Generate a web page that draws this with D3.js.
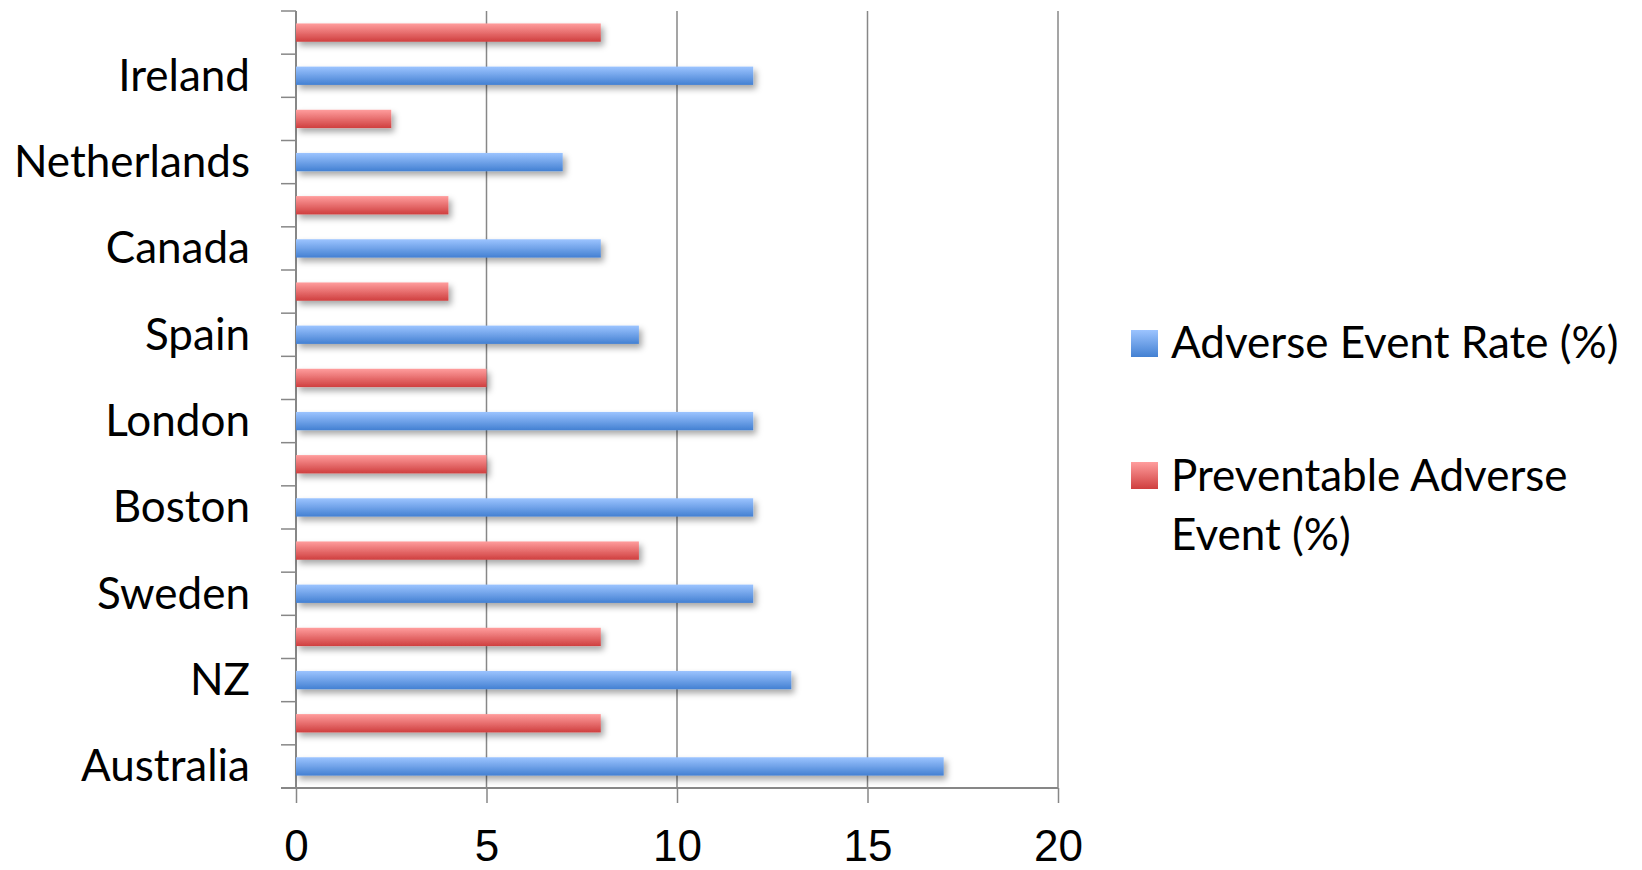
<!DOCTYPE html>
<html>
<head>
<meta charset="utf-8">
<script src="https://cdn.jsdelivr.net/npm/d3@7"></script>
<style>
  html, body { margin: 0; padding: 0; background: #fff; }
  svg { display: block; font-family: Lato, "Open Sans", sans-serif; }
</style>
</head>
<body>
<svg id="chart" width="1642" height="870"></svg>
<script>
// Categories listed from the top of the chart down
const categories = ["Ireland", "Netherlands", "Canada", "Spain", "London", "Boston", "Sweden", "NZ", "Australia"];
const adverseRate = [12, 7, 8, 9, 12, 12, 12, 13, 17];
const preventable = [8, 2.5, 4, 4, 5, 5, 9, 8, 8];
const seriesNames = ["Adverse Event Rate (%)", "Preventable Adverse Event (%)"];
const xTicks = [0, 5, 10, 15, 20];

const svg = d3.select("#chart");
const plot = { left: 296, right: 1058, top: 11, bottom: 788 };
const gridColor = "#878787";
const fontSize = 44;

const x = d3.scaleLinear().domain([0, 20]).range([plot.left, plot.right]);
const y = d3.scaleBand().domain(categories).range([plot.top, plot.bottom]).padding(0);
// Each category holds two slots: preventable on top, overall rate below
const sub = d3.scaleBand().domain(["prev", "rate"]).range([0, y.bandwidth()])
  .paddingInner(0.576).paddingOuter(0.288);

// Gradients and shadow
const defs = svg.append("defs");
function grad(id, top, bottom) {
  const g = defs.append("linearGradient").attr("id", id)
    .attr("x1", 0).attr("y1", 0).attr("x2", 0).attr("y2", 1);
  g.append("stop").attr("offset", "0%").attr("stop-color", top);
  g.append("stop").attr("offset", "100%").attr("stop-color", bottom);
}
grad("gBlue", "#9cc4ff", "#4380d2");
grad("gRed", "#ff9d9d", "#cf3f3f");
const f = defs.append("filter").attr("id", "shadow")
  .attr("x", "-5%").attr("y", "-40%").attr("width", "115%").attr("height", "220%");
f.append("feDropShadow").attr("dx", 3).attr("dy", 4).attr("stdDeviation", 3)
  .attr("flood-color", "#000").attr("flood-opacity", 0.35);

// Vertical gridlines
svg.append("g").selectAll("line").data(xTicks.slice(1)).join("line")
  .attr("x1", d => x(d)).attr("x2", d => x(d))
  .attr("y1", plot.top).attr("y2", plot.bottom)
  .attr("stroke", gridColor).attr("stroke-width", 1.5);

// Bottom axis
const xAxis = svg.append("g").attr("transform", `translate(0,${plot.bottom})`)
  .call(d3.axisBottom(x).tickValues(xTicks).tickSize(15).tickPadding(0).tickSizeOuter(0));
xAxis.select(".domain").remove();
xAxis.selectAll(".tick line").attr("stroke", gridColor).attr("stroke-width", 1.5);
xAxis.selectAll(".tick text").attr("font-size", fontSize).attr("fill", "#000")
  .attr("dy", null).attr("y", 73);
svg.append("line").attr("x1", plot.left - 15).attr("x2", plot.right)
  .attr("y1", plot.bottom).attr("y2", plot.bottom)
  .attr("stroke", gridColor).attr("stroke-width", 2);

// Left axis line and ticks at every slot boundary
svg.append("line").attr("x1", plot.left).attr("x2", plot.left)
  .attr("y1", plot.top).attr("y2", plot.bottom)
  .attr("stroke", gridColor).attr("stroke-width", 2);
const boundaries = [];
categories.forEach(c => { boundaries.push(y(c)); boundaries.push(y(c) + y.bandwidth() / 2); });
svg.append("g").selectAll("line").data(boundaries).join("line")
  .attr("x1", plot.left - 15).attr("x2", plot.left)
  .attr("y1", d => d).attr("y2", d => d)
  .attr("stroke", gridColor).attr("stroke-width", 1.5);

// Category labels, centred on the lower slot
svg.append("g").selectAll("text").data(categories).join("text")
  .attr("x", 250).attr("y", d => y(d) + sub("rate") + sub.bandwidth() / 2 + 15)
  .attr("text-anchor", "end").attr("font-size", fontSize).attr("fill", "#000")
  .text(d => d);

// Bars
const rows = categories.map((c, i) => ({ c, rate: adverseRate[i], prev: preventable[i] }));
const bars = svg.append("g").attr("filter", "url(#shadow)");
bars.selectAll("rect.prev").data(rows).join("rect").attr("class", "prev")
  .attr("x", x(0)).attr("y", d => y(d.c) + sub("prev"))
  .attr("width", d => x(d.prev) - x(0)).attr("height", sub.bandwidth())
  .attr("fill", "url(#gRed)");
bars.selectAll("rect.rate").data(rows).join("rect").attr("class", "rate")
  .attr("x", x(0)).attr("y", d => y(d.c) + sub("rate"))
  .attr("width", d => x(d.rate) - x(0)).attr("height", sub.bandwidth())
  .attr("fill", "url(#gBlue)");

// Legend
const legend = svg.append("g");
legend.append("rect").attr("x", 1131).attr("y", 330).attr("width", 27).attr("height", 27)
  .attr("fill", "url(#gBlue)");
legend.append("text").attr("x", 1171).attr("y", 358).attr("font-size", fontSize).text(seriesNames[0]);
legend.append("rect").attr("x", 1131).attr("y", 462).attr("width", 27).attr("height", 27)
  .attr("fill", "url(#gRed)");
const t2 = legend.append("text").attr("x", 1171).attr("y", 491).attr("font-size", fontSize);
t2.append("tspan").attr("x", 1171).text("Preventable Adverse");
t2.append("tspan").attr("x", 1171).attr("y", 550).text("Event (%)");
</script>
</body>
</html>
